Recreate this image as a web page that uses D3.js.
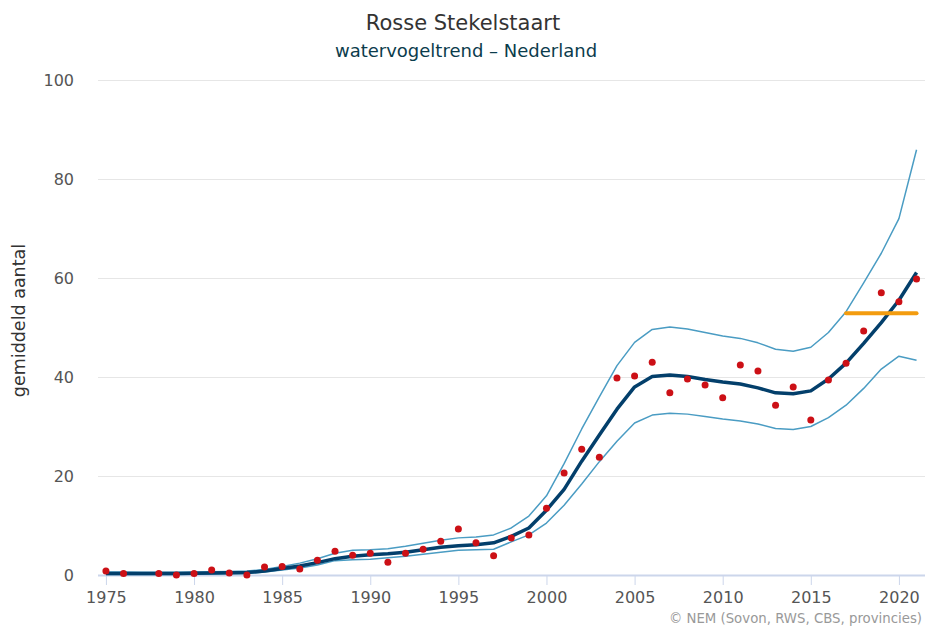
<!DOCTYPE html>
<html>
<head>
<meta charset="utf-8">
<script src="https://cdn.jsdelivr.net/npm/d3@7"></script>
<style>
  body { margin: 0; background: #fff; }
  svg { font-family: "DejaVu Sans", "Lucida Grande", sans-serif; }
</style>
</head>
<body>
<svg width="926" height="627"></svg>
<script>
// observed counts (1977 missing)
const obsYears = [1975,1976,1978,1979,1980,1981,1982,1983,1984,1985,1986,1987,1988,1989,1990,1991,1992,1993,1994,1995,1996,1997,1998,1999,2000,2001,2002,2003,2004,2005,2006,2007,2008,2009,2010,2011,2012,2013,2014,2015,2016,2017,2018,2019,2020,2021];
const obsValues = [0.8,0.3,0.3,0,0.3,1.0,0.4,0,1.6,1.7,1.2,3.0,4.8,4.0,4.4,2.6,4.4,5.2,6.8,9.3,6.5,3.9,7.5,8.1,13.5,20.6,25.4,23.8,39.8,40.2,43.0,36.8,39.6,38.4,35.8,42.4,41.2,34.3,38.0,31.3,39.4,42.8,49.3,57.0,55.2,59.8];

// trend and its confidence band, one value per year 1975-2021
const trendYears = d3.range(1975, 2022);
const trendValues = [
  0.3,0.3,0.3,0.3,0.3, 0.35,0.4,0.45,0.5,0.8,   // 1975-1984
  1.3,1.8,2.5,3.3,3.8, 4.1,4.3,4.6,5.1,5.6,     // 1985-1994
  5.9,6.1,6.5,7.8,9.5, 13.1,17.3,23.0,28.3,33.5, // 1995-2004
  38.0,40.1,40.4,40.1,39.5, 39.0,38.6,37.8,36.8,36.6, // 2005-2014
  37.2,39.6,42.8,46.8,51.0, 55.5,61.1           // 2015-2021
];
const upperValues = [
  0.6,0.6,0.55,0.55,0.55, 0.6,0.65,0.7,0.8,1.1,
  1.7,2.4,3.3,4.4,5.0, 5.1,5.3,5.8,6.4,7.0,
  7.5,7.7,8.1,9.5,11.9, 16.0,22.5,29.5,36.0,42.3,
  47.0,49.6,50.1,49.7,49.0, 48.3,47.8,46.9,45.6,45.2,
  46.0,49.0,53.2,59.0,65.0, 72.0,85.9
];
const lowerValues = [
  0.1,0.1,0.1,0.1,0.1, 0.15,0.2,0.25,0.3,0.6,
  1.0,1.4,2.0,2.9,3.1, 3.2,3.5,3.8,4.2,4.6,
  5.0,5.1,5.2,6.7,8.1, 10.5,14.1,18.4,22.9,27.0,
  30.7,32.3,32.7,32.5,32.0, 31.5,31.1,30.5,29.6,29.4,
  30.0,31.8,34.3,37.7,41.6, 44.2,43.4
];

// recent mean (orange bar)
const meanYears = [2017, 2021];
const meanValue = 52.9;

const yTicks = [0, 20, 40, 60, 80, 100];
const xTicks = [1975, 1980, 1985, 1990, 1995, 2000, 2005, 2010, 2015, 2020];

const svg = d3.select('svg');
const plot = {left: 98, right: 925, top: 80, bottom: 575};

const xScale = d3.scaleLinear()
  .domain([1974.55, 2021.48])
  .range([plot.left, plot.right]);

const yScale = d3.scaleLinear()
  .domain([0, 100])
  .range([plot.bottom, plot.top]);

// title
svg.append('text')
  .attr('x', 463).attr('y', 30)
  .attr('text-anchor', 'middle')
  .attr('fill', '#333333')
  .style('font-size', '21px')
  .text('Rosse Stekelstaart');

svg.append('text')
  .attr('x', 466).attr('y', 57)
  .attr('text-anchor', 'middle')
  .attr('fill', '#0b3c4c')
  .style('font-size', '18px')
  .text('watervogeltrend – Nederland');

// y grid + labels
const yAxis = d3.axisLeft(yScale)
  .tickValues(yTicks)
  .tickSize(-(plot.right - plot.left))
  .tickPadding(24);

const yAxisG = svg.append('g')
  .attr('transform', `translate(${plot.left},0)`)
  .call(yAxis);
yAxisG.select('.domain').remove();
yAxisG.selectAll('line').attr('stroke', '#e6e6e6');
yAxisG.selectAll('text')
  .attr('fill', '#555555')
  .style('font-size', '16px')
  .style('font-family', '"DejaVu Sans", sans-serif');

svg.append('text')
  .attr('transform', `translate(25,${(plot.top + plot.bottom) / 2 - 7}) rotate(-90)`)
  .attr('text-anchor', 'middle')
  .attr('fill', '#333333')
  .style('font-size', '17.5px')
  .text('gemiddeld aantal');

// x axis
const xAxis = d3.axisBottom(xScale)
  .tickValues(xTicks)
  .tickFormat(d3.format('d'))
  .tickSize(10)
  .tickPadding(7);

const xAxisG = svg.append('g')
  .attr('transform', `translate(0,${plot.bottom})`)
  .call(xAxis);
xAxisG.select('.domain')
  .attr('d', `M${plot.left},0.5H${plot.right}`)
  .attr('stroke', '#ccd6eb')
  .attr('stroke-width', 2);
xAxisG.selectAll('line').attr('stroke', '#ccd6eb');
xAxisG.selectAll('text')
  .attr('fill', '#555555')
  .style('font-size', '16px')
  .style('font-family', '"DejaVu Sans", sans-serif');

// lines
const lineFor = values => d3.line()
  .x((d, i) => xScale(trendYears[i]))
  .y(d => yScale(d))(values);

svg.append('path')
  .attr('d', lineFor(upperValues))
  .attr('fill', 'none')
  .attr('stroke', '#4a9cc3')
  .attr('stroke-width', 1.5)
  .attr('stroke-linejoin', 'round');

svg.append('path')
  .attr('d', lineFor(lowerValues))
  .attr('fill', 'none')
  .attr('stroke', '#4a9cc3')
  .attr('stroke-width', 1.5)
  .attr('stroke-linejoin', 'round');

svg.append('path')
  .attr('d', lineFor(trendValues))
  .attr('fill', 'none')
  .attr('stroke', '#033f6b')
  .attr('stroke-width', 3.5)
  .attr('stroke-linejoin', 'round');

svg.append('line')
  .attr('x1', xScale(meanYears[0]))
  .attr('x2', xScale(meanYears[1]))
  .attr('y1', yScale(meanValue))
  .attr('y2', yScale(meanValue))
  .attr('stroke', '#f39c0f')
  .attr('stroke-width', 4)
  .attr('stroke-linecap', 'round');

// observed points
svg.append('g').selectAll('circle')
  .data(obsValues)
  .join('circle')
  .attr('cx', (d, i) => xScale(obsYears[i]))
  .attr('cy', d => yScale(d))
  .attr('r', 3.5)
  .attr('fill', '#cc1016');

// credits
svg.append('text')
  .attr('x', 922).attr('y', 623)
  .attr('text-anchor', 'end')
  .attr('fill', '#999999')
  .style('font-size', '13.3px')
  .text('© NEM (Sovon, RWS, CBS, provincies)');
</script>
</body>
</html>
